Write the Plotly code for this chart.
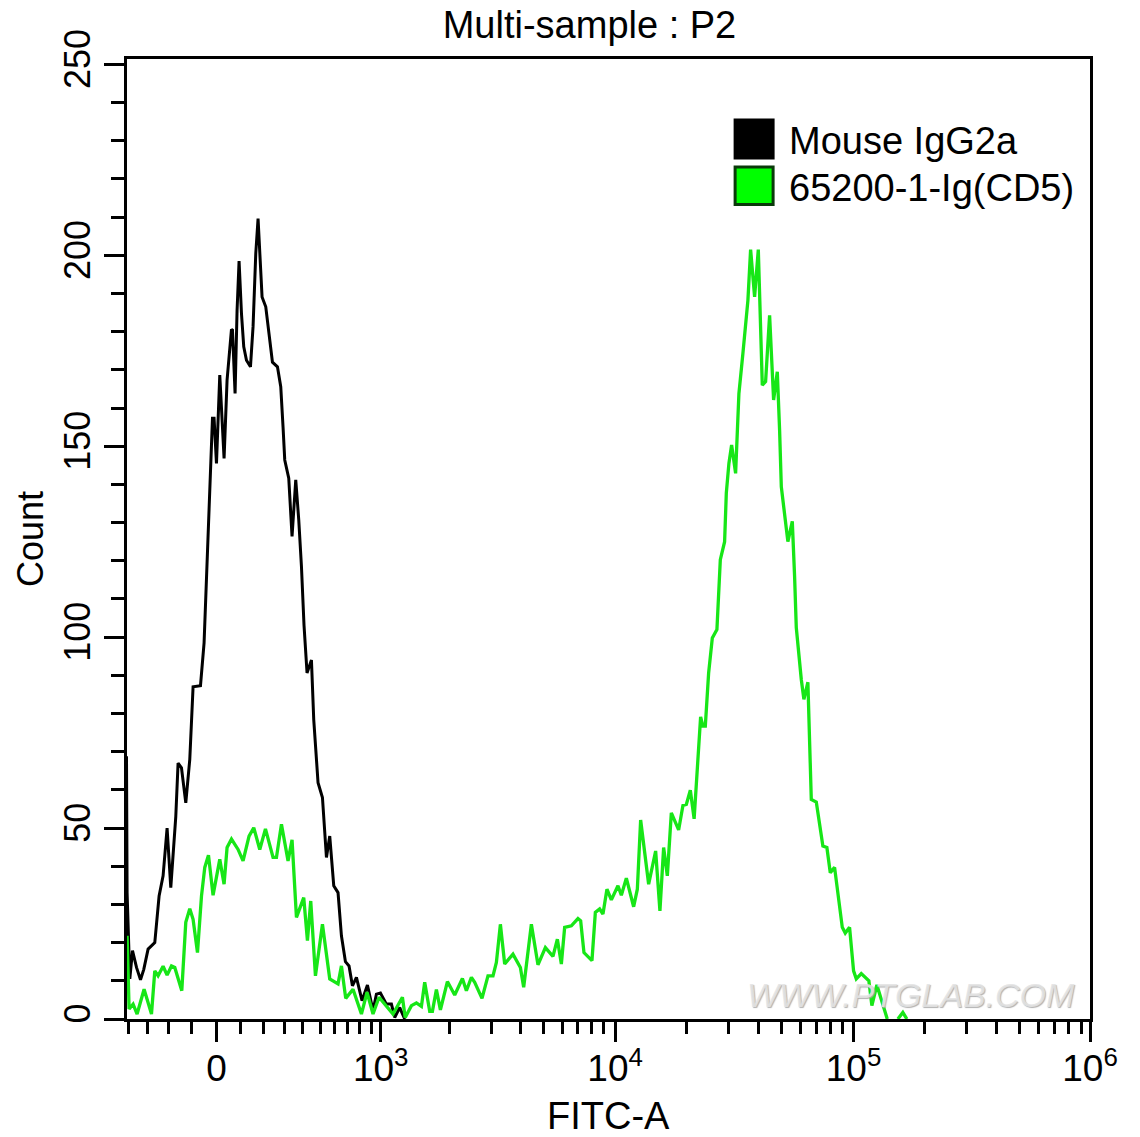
import plotly.graph_objects as go

# x values are display channels of the biexponential FITC-A scale (0..966), y values are event counts
black_x = [0.7,1.3,4,6.7,10.7,14.7,18,22.3,29,33.3,37.3,41.3,45,50,52.3,55.7,60,64,67.3,74.7,78.3,81.3,83.3,84.7,85.7,86.7,88.3,90.7,94,96.7,98.3,101.3,103.3,105.7,106.7,109.3,111.3,113.3,115.7,118,120.7,124.7,127.3,130,132.3,134,136.3,140,143,146.7,151.7,155,157.3,159,163,166.3,170,173,175.7,178.3,181.3,185.7,188,192.3,196.7,200.7,204,208,212.3,215.7,219.7,223.3,226.7,230.7,236.3,241.7,247.3,250.7,254.7,260.7,265.7,269,274,279]
black_y = [68.8,33,10.5,17.9,13.5,10.3,13,18.3,20,32.2,37.5,50,34.4,53,67,65.8,56.6,68,87,87.3,98.5,120.7,135,142.5,150.8,157.3,157.3,145.5,168.6,153.4,146.8,167.3,174.3,180.6,180.4,163.8,185.6,198.5,184.8,176,172.5,170.8,181.3,200.4,209.6,200,189.1,186.5,179.5,172,170.8,165.6,155,146.4,141.6,126.4,141.2,130.7,118.5,103,90.6,94,78.4,61.9,58,42.3,47.9,34.9,33.1,21.8,15,13.9,8.7,10.9,4.8,8.9,2.2,6.5,6.8,3.9,3.9,0.4,3,0]

green_x = [1.3,3.3,7.3,11.3,18.3,25.7,29,32.3,37.3,41.3,45.7,49,56,60,64,67.3,71.7,75.7,79,82.7,87.3,94,98.3,101.3,105.7,112.3,117.3,123.3,128,134,139.7,147.3,150.7,155.7,162.3,166.3,170.7,178,181.7,185,189.7,196.7,204,212.3,215.7,220,227.3,235.7,241.3,247.3,253.3,267.3,276.7,279.5,285.7,290.7,295.7,299,304,306.7,310.7,314.7,321.7,329,336.7,340.7,345.7,349,356.3,362.3,367.3,370.7,374.7,379,387.3,394.7,398,405.7,412.3,419.7,427.3,431.7,435.7,439,445.7,452.3,455,458.3,466.3,469.7,474,477.3,481.3,485.7,492.3,495.7,500.7,508,511.7,515,523,530,534.3,538,541.7,545.7,553,557.3,560.7,564.7,568.5,572.3,575,577.3,579.7,583,586.7,591.3,594.7,599,600.7,603.3,606,610,613.3,617.3,622.3,625,629,632.7,634.7,636.7,640,644,648,651.7,654,655.7,662.3,666.7,669,670.7,675.7,678.3,682.3,684.7,685.7,690.7,697.3,701.3,704.7,709,716.7,719.7,724,728,730.7,735.7,743.3,746.3,751.3,761.7,None,772.3,777.3,781.3]
green_y = [21.8,2.6,3.9,1.3,7.8,1.3,12.6,11.3,13.8,11.5,13.9,13.5,7.4,25.3,28.9,26.1,17.4,32.2,39.7,42.9,32.4,41.8,35.3,44.9,47.1,44.4,41.4,47.9,50.1,44.4,49.8,42.3,42.3,51,41.4,46.9,26.6,31.8,20.5,30.9,11.3,24.8,10.5,9.2,13.9,5.4,7.8,1.3,7,1.3,5.7,1.3,5.7,0.4,3.5,4.2,3.3,9.6,2,2,7.7,2.4,9.8,6.3,10.6,7.4,10.9,9.6,5.4,11.3,11.3,14.8,24.8,14.4,17,13.5,8.3,24.8,14.2,18.7,16.4,20.9,14.4,24,24.4,26.3,25.7,17.4,15.3,27.9,28.8,27.5,34,31.2,34.9,32.4,36.9,29.4,34,52.1,35.3,44,28.3,44.9,37.5,54,49.5,55.9,56.2,59.9,52.4,68.8,79.1,76.7,76.7,90.6,99.8,102,120.3,125,137.7,145.5,150.3,142.9,163.8,174.3,188.2,201.5,189.1,201.5,182.1,166,166.9,184.3,162.1,169.5,154.2,139.4,125,130.3,115.9,102.5,88.9,83.7,88.2,69.7,57.5,56.8,45.3,44.9,38.3,39.7,24,22.5,24,12.6,10.5,11.9,10,3.5,8.9,0,None,0,1.7,0]

series_names = ["Mouse IgG2a", "65200-1-Ig(CD5)"]
x_major_vals = [90.7, 255, 489.5, 728, 964.5]
x_major_text = ["0", "10<sup>3</sup>", "10<sup>4</sup>", "10<sup>5</sup>", "10<sup>6</sup>"]
x_minor_vals = [3,22,43,66,115,138,159,177,195,209,222,234,246,
                324,366,395,418,437,452,466,478,
                561,603,633,656,675,691,705,717,
                799,841,871,894,913,929,943,956]
y_major_vals = [0, 50, 100, 150, 200, 250]

FONT = "Liberation Sans, Arial, sans-serif"
LINE_GREEN = "#17e617"
W, H = 1140, 1137
L, R, T, B = 127.2, 1090.5, 58.5, 1019

def px(v): return (v - L) / (R - L)
def py(v): return (B - v) / (B - T)

fig = go.Figure()
fig.add_trace(go.Scatter(x=black_x, y=black_y, mode="lines", name=series_names[0],
                         line=dict(color="#000000", width=3), showlegend=False))
fig.add_trace(go.Scatter(x=green_x, y=green_y, mode="lines", name=series_names[1],
                         line=dict(color=LINE_GREEN, width=3.3), showlegend=False))

axis_common = dict(showgrid=False, zeroline=False, showline=True, linecolor="black", linewidth=3,
                   mirror=True, ticks="outside", tickcolor="black", tickwidth=3, ticklen=20)

fig.update_xaxes(range=[1.2, 964.5], tickmode="array", tickvals=x_major_vals, ticktext=x_major_text,
                 tickfont=dict(family=FONT, size=37, color="black"), ticklabelstandoff=-5,
                 minor=dict(tickmode="array", tickvals=x_minor_vals, ticks="outside", ticklen=12,
                            tickwidth=3, tickcolor="black"),
                 **axis_common)
fig.update_yaxes(range=[0, 251.4], tickmode="array", tickvals=y_major_vals, tickangle=-90,
                 tickfont=dict(family=FONT, size=36, color="black"),
                 minor=dict(tickmode="linear", tick0=0, dtick=10, ticks="outside", ticklen=13,
                            tickwidth=3, tickcolor="black"),
                 title=dict(text="Count", font=dict(family=FONT, size=36, color="black"), standoff=2),
                 **axis_common)

shapes = [
    dict(type="rect", xref="paper", yref="paper", x0=px(735), x1=px(774), y0=py(158), y1=py(119),
         fillcolor="black", line=dict(color="black", width=2)),
    dict(type="rect", xref="paper", yref="paper", x0=px(735.5), x1=px(773.5), y0=py(204), y1=py(166.5),
         fillcolor="#00ff00", line=dict(color="#0a3a0a", width=3)),
]
annotations = [
    dict(text=series_names[0], xref="paper", yref="paper", x=px(787), y=py(141), xanchor="left",
         yanchor="middle", showarrow=False, font=dict(family=FONT, size=38, color="black")),
    dict(text=series_names[1], xref="paper", yref="paper", x=px(787), y=py(188), xanchor="left",
         yanchor="middle", showarrow=False, font=dict(family=FONT, size=38, color="black")),
    dict(text="WWW.PTGLAB.COM", xref="paper", yref="paper", x=px(911), y=py(995), xanchor="center",
         yanchor="middle", showarrow=False,
         font=dict(family=FONT, size=34, style="italic", color="rgba(228,228,228,0.9)",
                   shadow="1px 1px 1px #a8a8a8")),
    dict(text="FITC-A", xref="paper", yref="paper", x=px(609), y=py(1116), xanchor="center",
         yanchor="middle", showarrow=False, font=dict(family=FONT, size=38, color="black")),
]

fig.update_layout(
    width=W, height=H, autosize=False,
    margin=dict(l=L, r=W - R, t=T, b=H - B, pad=0),
    paper_bgcolor="white", plot_bgcolor="white",
    title=dict(text="Multi-sample : P2", x=589.5 / W, xanchor="center", xref="container",
               y=1 - 25 / H, yanchor="middle", yref="container",
               font=dict(family=FONT, size=38, color="black")),
    shapes=shapes, annotations=annotations, showlegend=False,
)

fig.write_html("out.html", config={"displayModeBar": False},
               post_script="document.body.style.margin='0';document.body.style.overflow='hidden';")
